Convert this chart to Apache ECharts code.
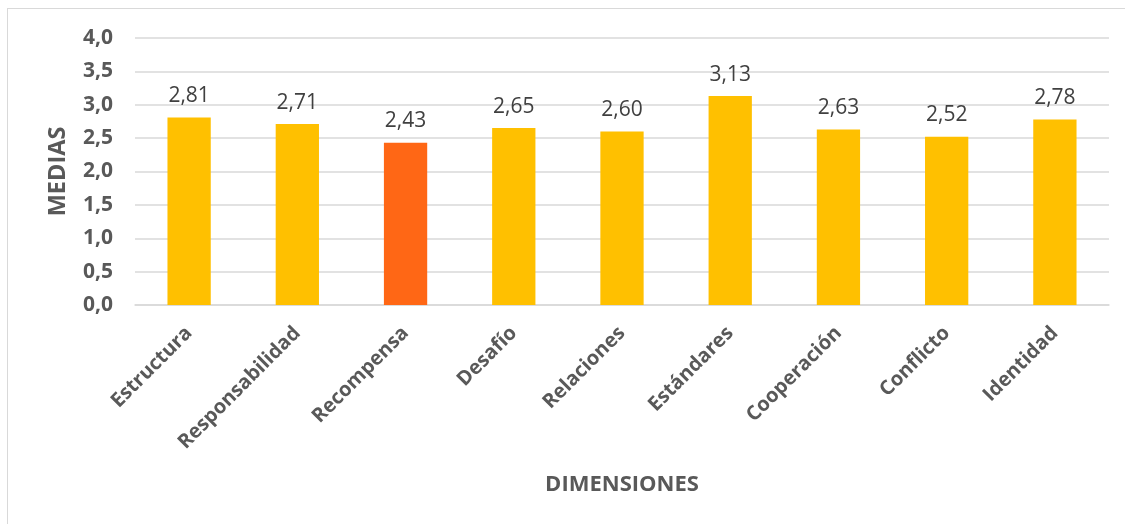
<!DOCTYPE html>
<html><head><meta charset="utf-8">
<script src="https://cdn.jsdelivr.net/npm/echarts@6/dist/echarts.min.js"></script>
<style>html,body{margin:0;padding:0;background:#fff}#c{width:1125px;height:524px}
#frame{position:absolute;left:7px;top:8px;width:1130px;height:530px;border:1.5px solid #d9d9d9;box-sizing:border-box;pointer-events:none}</style>
</head><body><div id="c"></div><div id="frame"></div>
<script>
const categories = ['Estructura','Responsabilidad','Recompensa','Desafío','Relaciones','Estándares','Cooperación','Conflicto','Identidad'];
const values = [2.81, 2.71, 2.43, 2.65, 2.60, 3.13, 2.63, 2.52, 2.78];
const highlighted = 'Recompensa';
const yTitle = 'MEDIAS';
const xTitle = 'DIMENSIONES';
const fontFam = '"Open Sans", "Noto Sans", sans-serif';
const chart = echarts.init(document.getElementById('c'));
chart.setOption({
  animation:false,
  grid:{left:135,right:16,top:38,bottom:219,containLabel:false},
  graphic:[{type:'text',x:58,y:171.5,rotation:Math.PI/2,
    style:{text:yTitle,align:'center',verticalAlign:'middle',fill:'#595959',
      font:'bold 23.5px "Open Sans", "Noto Sans", sans-serif'}}],
  xAxis:{type:'category',data:categories,
    axisLine:{lineStyle:{color:'#d9d9d9',width:1.5}},axisTick:{show:false},
    axisLabel:{rotate:45,interval:0,color:'#595959',fontWeight:'bold',fontSize:20,fontFamily:fontFam,margin:25},
    name:xTitle,nameLocation:'middle',nameGap:169,
    nameTextStyle:{color:'#595959',fontWeight:'bold',fontSize:22,fontFamily:fontFam}},
  yAxis:{type:'value',min:0,max:4,interval:0.5,
    axisLabel:{formatter:v=>v.toFixed(1).replace('.',','),color:'#595959',fontWeight:'bold',fontSize:21,fontFamily:fontFam,margin:22},
    splitLine:{lineStyle:{color:'#d9d9d9',width:1.5}},
    axisLine:{show:false},axisTick:{show:false}},
  series:[{type:'bar',barCategoryGap:'60%',
    data:values.map((v,i)=>({value:v,itemStyle:{color:categories[i]===highlighted?'#FF6715':'#FFC000'}})),
    label:{show:true,position:'top',distance:11,color:'#404040',fontSize:21,fontFamily:fontFam,
      formatter:p=>p.value.toFixed(2).replace('.',',')}}]
});
</script></body></html>
